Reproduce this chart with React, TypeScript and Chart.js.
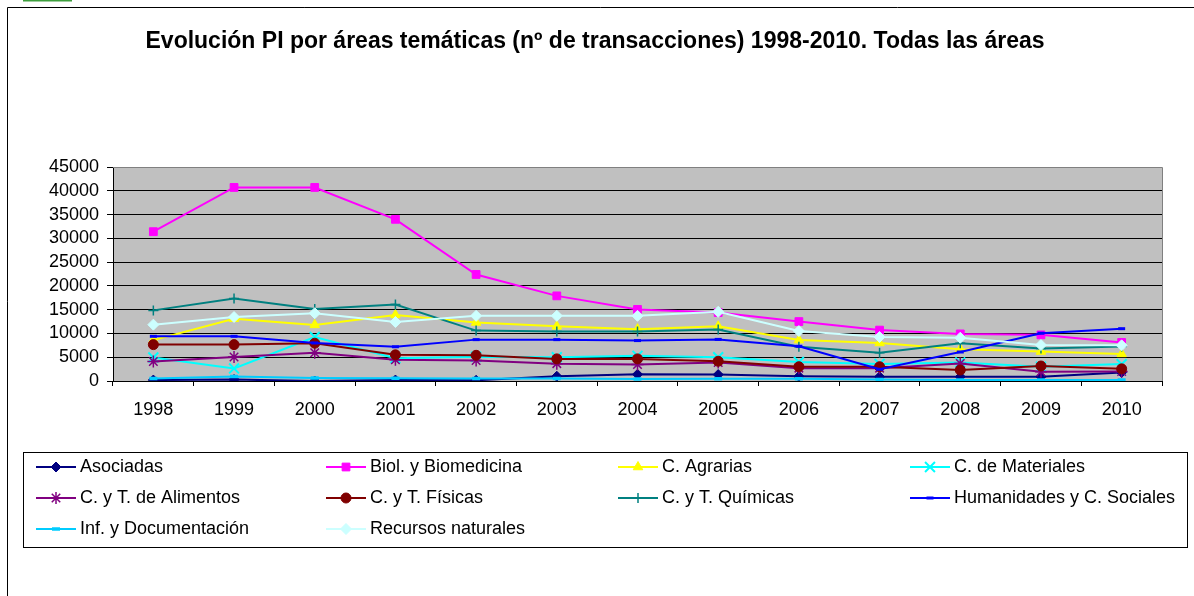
import React, { useEffect, useRef } from 'react';
import { Chart, registerables } from 'chart.js';
import * as helpers from 'chart.js/helpers';

Chart.register(...registerables);

const FONT = '"Liberation Sans", Arial, sans-serif';
const TITLE = 'Evolución PI por áreas temáticas (nº de transacciones) 1998-2010. Todas las áreas';

const years = ['1998', '1999', '2000', '2001', '2002', '2003', '2004', '2005', '2006', '2007', '2008', '2009', '2010'];

const seriesNames = [
  'Asociadas',
  'Biol. y Biomedicina',
  'C. Agrarias',
  'C. de Materiales',
  'C. y T. de Alimentos',
  'C. y T. Físicas',
  'C. y T. Químicas',
  'Humanidades y C. Sociales',
  'Inf. y Documentación',
  'Recursos naturales',
];

const asociadas = [200, 300, 0, 200, 150, 1000, 1400, 1350, 1000, 900, 900, 900, 1800];
const biol = [31400, 40700, 40700, 34000, 22400, 17900, 15050, 14400, 12500, 10700, 9900, 9700, 8100];
const agrarias = [8600, 13100, 11800, 13900, 12300, 11500, 10900, 11500, 8600, 8000, 6700, 6200, 5700];
const materiales = [4950, 2650, 9250, 4800, 5100, 5000, 5300, 5000, 4000, 3600, 3900, 3000, 3550];
const alimentos = [4100, 5050, 5950, 4450, 4300, 3650, 3450, 3900, 2700, 2700, 3700, 1950, 2000];
const fisicas = [7650, 7650, 7950, 5500, 5400, 4650, 4650, 4150, 3000, 3000, 2300, 3150, 2550];
const quimicas = [14850, 17350, 15150, 16100, 10600, 10400, 10400, 10850, 7200, 5950, 7950, 6850, 7250];
const humanidades = [9400, 9400, 8000, 7200, 8700, 8700, 8500, 8750, 7300, 2460, 6100, 10050, 11000];
const infDoc = [500, 950, 650, 600, 550, 550, 420, 450, 450, 330, 210, 210, 210];
const recursos = [11850, 13450, 14250, 12400, 13700, 13700, 13700, 14550, 10500, 9250, 9100, 7550, 7500];

const seriesValues = [asociadas, biol, agrarias, materiales, alimentos, fisicas, quimicas, humanidades, infDoc, recursos];

const colors = ['#000080', '#FF00FF', '#FFFF00', '#00FFFF', '#800080', '#800000', '#008080', '#0000FF', '#00CCFF', '#CCFFFF'];
const pointStyles = ['rectRot', 'rect', 'triangle', 'crossRot', 'star', 'circle', 'cross', 'line', 'line', 'rectRot'];
const pointRadii = [5, 5.5, 5.5, 7, 6, 5, 5, 3.5, 4, 5.5];
const pointBorders = [1, 1, 1, 2, 1.5, 1, 1.5, 3, 3.5, 1];

const PLOT_BG = '#C0C0C0';

const decorPlugin = {
  id: 'decor',
  beforeDraw(chart: any) {
    const { ctx, chartArea } = chart;
    ctx.save();
    ctx.fillStyle = '#FFFFFF';
    ctx.fillRect(0, 0, chart.width, chart.height);
    ctx.fillStyle = '#3E9E3E';
    ctx.fillRect(23, 0, 49, 1.5);
    ctx.strokeStyle = '#000';
    ctx.lineWidth = 1;
    ctx.beginPath();
    ctx.moveTo(7.5, chart.height);
    ctx.lineTo(7.5, 7.5);
    ctx.lineTo(chart.width, 7.5);
    ctx.stroke();
    ctx.fillStyle = PLOT_BG;
    ctx.fillRect(chartArea.left, chartArea.top, chartArea.right - chartArea.left, chartArea.bottom - chartArea.top);
    ctx.fillStyle = '#000';
    ctx.font = `bold 23px ${FONT}`;
    ctx.textAlign = 'center';
    ctx.textBaseline = 'middle';
    ctx.fillText(TITLE, 595, 42);
    ctx.restore();
  },
  beforeDatasetsDraw(chart: any) {
    const { ctx, chartArea } = chart;
    ctx.save();
    ctx.strokeStyle = '#808080';
    ctx.lineWidth = 1;
    ctx.beginPath();
    ctx.moveTo(chartArea.left, Math.round(chartArea.top) + 0.5);
    ctx.lineTo(Math.round(chartArea.right) + 0.5, Math.round(chartArea.top) + 0.5);
    ctx.lineTo(Math.round(chartArea.right) + 0.5, chartArea.bottom);
    ctx.stroke();
    ctx.restore();
  },
  afterDraw(chart: any) {
    const { ctx } = chart;
    ctx.save();
    ctx.strokeStyle = '#000';
    ctx.lineWidth = 1;
    ctx.strokeRect(23.5, 452.5, 1164, 95);
    const colX = [36, 326, 618, 910];
    const rowY = [467, 498, 529];
    chart.data.datasets.forEach((ds: any, i: number) => {
      const cx = colX[i % 4];
      const cy = rowY[Math.floor(i / 4)];
      ctx.strokeStyle = ds.borderColor;
      ctx.lineWidth = 2;
      ctx.beginPath();
      ctx.moveTo(cx, cy);
      ctx.lineTo(cx + 40, cy);
      ctx.stroke();
      ctx.fillStyle = ds.pointBackgroundColor;
      ctx.strokeStyle = ds.pointBorderColor;
      ctx.lineWidth = ds.pointBorderWidth;
      helpers.drawPoint(ctx, {
        pointStyle: ds.pointStyle,
        rotation: 0,
        radius: ds.pointRadius,
        borderWidth: ds.pointBorderWidth,
      }, cx + 20, cy);
      ctx.fillStyle = '#000';
      ctx.font = `18px ${FONT}`;
      ctx.textAlign = 'left';
      ctx.textBaseline = 'middle';
      ctx.fillText(ds.label, cx + 44, cy);
    });
    ctx.restore();
  },
};

export default function App() {
  const canvasRef = useRef<HTMLCanvasElement | null>(null);

  useEffect(() => {
    const canvas = canvasRef.current;
    if (!canvas) return;
    const n = seriesNames.length;
    const datasets = seriesNames.map((name, i) => ({
      label: name,
      data: seriesValues[i],
      borderColor: colors[i],
      backgroundColor: colors[i],
      pointBackgroundColor: colors[i],
      pointBorderColor: colors[i],
      pointStyle: pointStyles[i],
      pointRadius: pointRadii[i],
      pointBorderWidth: pointBorders[i],
      borderWidth: 2,
      tension: 0,
      fill: false,
      order: n - i,
    }));

    const chart = new Chart(canvas, {
      type: 'line',
      data: { labels: years, datasets },
      options: {
        responsive: false,
        devicePixelRatio: 1,
        animation: false,
        events: [],
        layout: { padding: { left: 0, top: 167, right: 32, bottom: 175 } },
        plugins: {
          legend: { display: false },
          title: { display: false },
          tooltip: { enabled: false },
        },
        scales: {
          x: {
            offset: true,
            grid: { offset: true, drawOnChartArea: false, drawTicks: true, tickLength: 5, color: '#000', tickColor: '#000' },
            border: { color: '#000', width: 1 },
            ticks: { color: '#000', font: { family: FONT, size: 18 }, padding: 13, maxRotation: 0, autoSkip: false },
            afterFit: (s: any) => { s.height = 40; },
          },
          y: {
            min: 0,
            max: 45000,
            ticks: {
              stepSize: 5000,
              autoSkip: false,
              color: '#000',
              font: { family: FONT, size: 18 },
              padding: 8,
              callback: (v: any) => String(v),
            },
            grid: {
              color: (c: any) => (c.tick && c.tick.value === 45000 ? '#808080' : '#000'),
              tickColor: '#000',
              lineWidth: 1,
              tickLength: 6,
              drawTicks: true,
            },
            border: { color: '#000', width: 1 },
            afterFit: (s: any) => { s.width = 113; },
          },
        },
      },
      plugins: [decorPlugin],
    });
    return () => chart.destroy();
  }, []);

  return (
    <div style={{ position: 'absolute', left: 0, top: 0, width: 1194, height: 596, background: '#fff' }}>
      <canvas ref={canvasRef} width={1194} height={596} style={{ display: 'block' }} />
    </div>
  );
}
